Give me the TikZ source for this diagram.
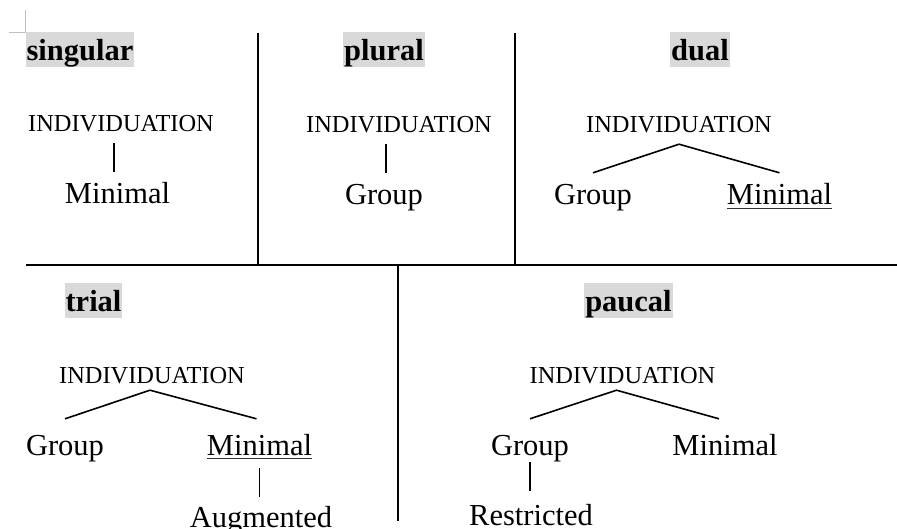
\documentclass[tikz,border=0pt]{standalone}
\usepackage{fontspec}
\setmainfont{Liberation Serif}
\usepackage{xcolor}
\usepackage{tikz}
\usetikzlibrary{positioning}

\definecolor{hlgray}{HTML}{D9D9D9}
\definecolor{markgray}{HTML}{BFBFBF}

\begin{document}
\begin{tikzpicture}[
  x=1pt, y=-1pt,
  head/.style={
    font=\bfseries\fontsize{30.5}{36}\selectfont,
    fill=hlgray,
    inner xsep=1pt,
    inner ysep=0pt,
    text height=29pt,
    text depth=6pt,
    anchor=base
  },
  feat/.style={
    font=\fontsize{24.4}{28}\selectfont,
    inner xsep=0pt,
    inner ysep=11pt,
    text height=16pt,
    text depth=0pt,
    anchor=base
  },
  val/.style={
    font=\fontsize{30.5}{36}\selectfont,
    inner xsep=0pt,
    inner ysep=12pt,
    text height=20pt,
    text depth=0pt,
    anchor=base
  },
  branch/.style={line width=1.6pt},
  rule/.style={line width=2pt},
  uline/.style={line width=1.2pt, black!80}
]
\useasboundingbox (0,0) rectangle (897,529);

% corner mark
\draw[markgray, line width=0.8pt] (9,32) -- (25,32) -- (25,10);

% table rules
\draw[rule] (26,265) -- (897,265);
\draw[rule] (258,33) -- (258,265);
\draw[rule] (515,33) -- (515,265);
\draw[rule] (398,265) -- (398,521);

% singular
\node[head] (hsing) at (80,61) {singular};
\node[feat] (ind1) at (121,132) {INDIVIDUATION};
\node[val] (min1) at (117.5,204) {Minimal};
\draw[branch] ([xshift=-3.5pt]min1.north |- ind1.south) -- ([xshift=-3.5pt]min1.north);

% plural
\node[head] (hplur) at (384,61) {plural};
\node[feat] (ind2) at (399,133) {INDIVIDUATION};
\node[val] (grp2) at (384,205) {Group};
\draw[branch] ([xshift=2pt]grp2.north |- ind2.south) -- ([xshift=2pt]grp2.north);

% dual
\node[head] (hdual) at (700,61) {dual};
\node[feat] (ind3) at (679,133) {INDIVIDUATION};
\node[val] (grp3) at (593,205) {Group};
\node[val] (min3) at (779.5,205) {Minimal};
\draw[branch] (grp3.north) -- (ind3.south) -- (min3.north);
\draw[uline] ([yshift=-3.5pt]min3.base west) -- ([yshift=-3.5pt]min3.base east);

% trial
\node[head] (htrial) at (93.5,312) {trial};
\node[feat, inner ysep=7pt] (ind4) at (152,383) {INDIVIDUATION};
\node[val, inner ysep=16pt] (grp4) at (65,455) {Group};
\node[val, inner ysep=16pt] (min4) at (259.5,455) {Minimal};
\node[val, inner ysep=10pt] (aug4) at (261,527) {Augmented};
\draw[branch] (grp4.north) -- ([xshift=-2pt]ind4.south) -- ([xshift=-3pt]min4.north);
\draw[uline] ([yshift=-3.5pt]min4.base west) -- ([yshift=-3.5pt]min4.base east);
\draw[branch, shorten <=-3pt] (min4.south) -- (min4.south |- aug4.north);

% paucal
\node[head] (hpauc) at (628.5,312) {paucal};
\node[feat, inner ysep=7pt] (ind5) at (622.5,383) {INDIVIDUATION};
\node[val, inner ysep=16pt] (grp5) at (530,455) {Group};
\node[val, inner ysep=16pt] (min5) at (725,455) {Minimal};
\node[val, inner ysep=14pt] (res5) at (531,525) {Restricted};
\draw[branch] (grp5.north) -- ([xshift=-6pt]ind5.south) -- ([xshift=-6pt]min5.north);
\draw[branch, shorten <=-9pt] (grp5.south) -- (grp5.south |- res5.north);
\end{tikzpicture}
\end{document}
